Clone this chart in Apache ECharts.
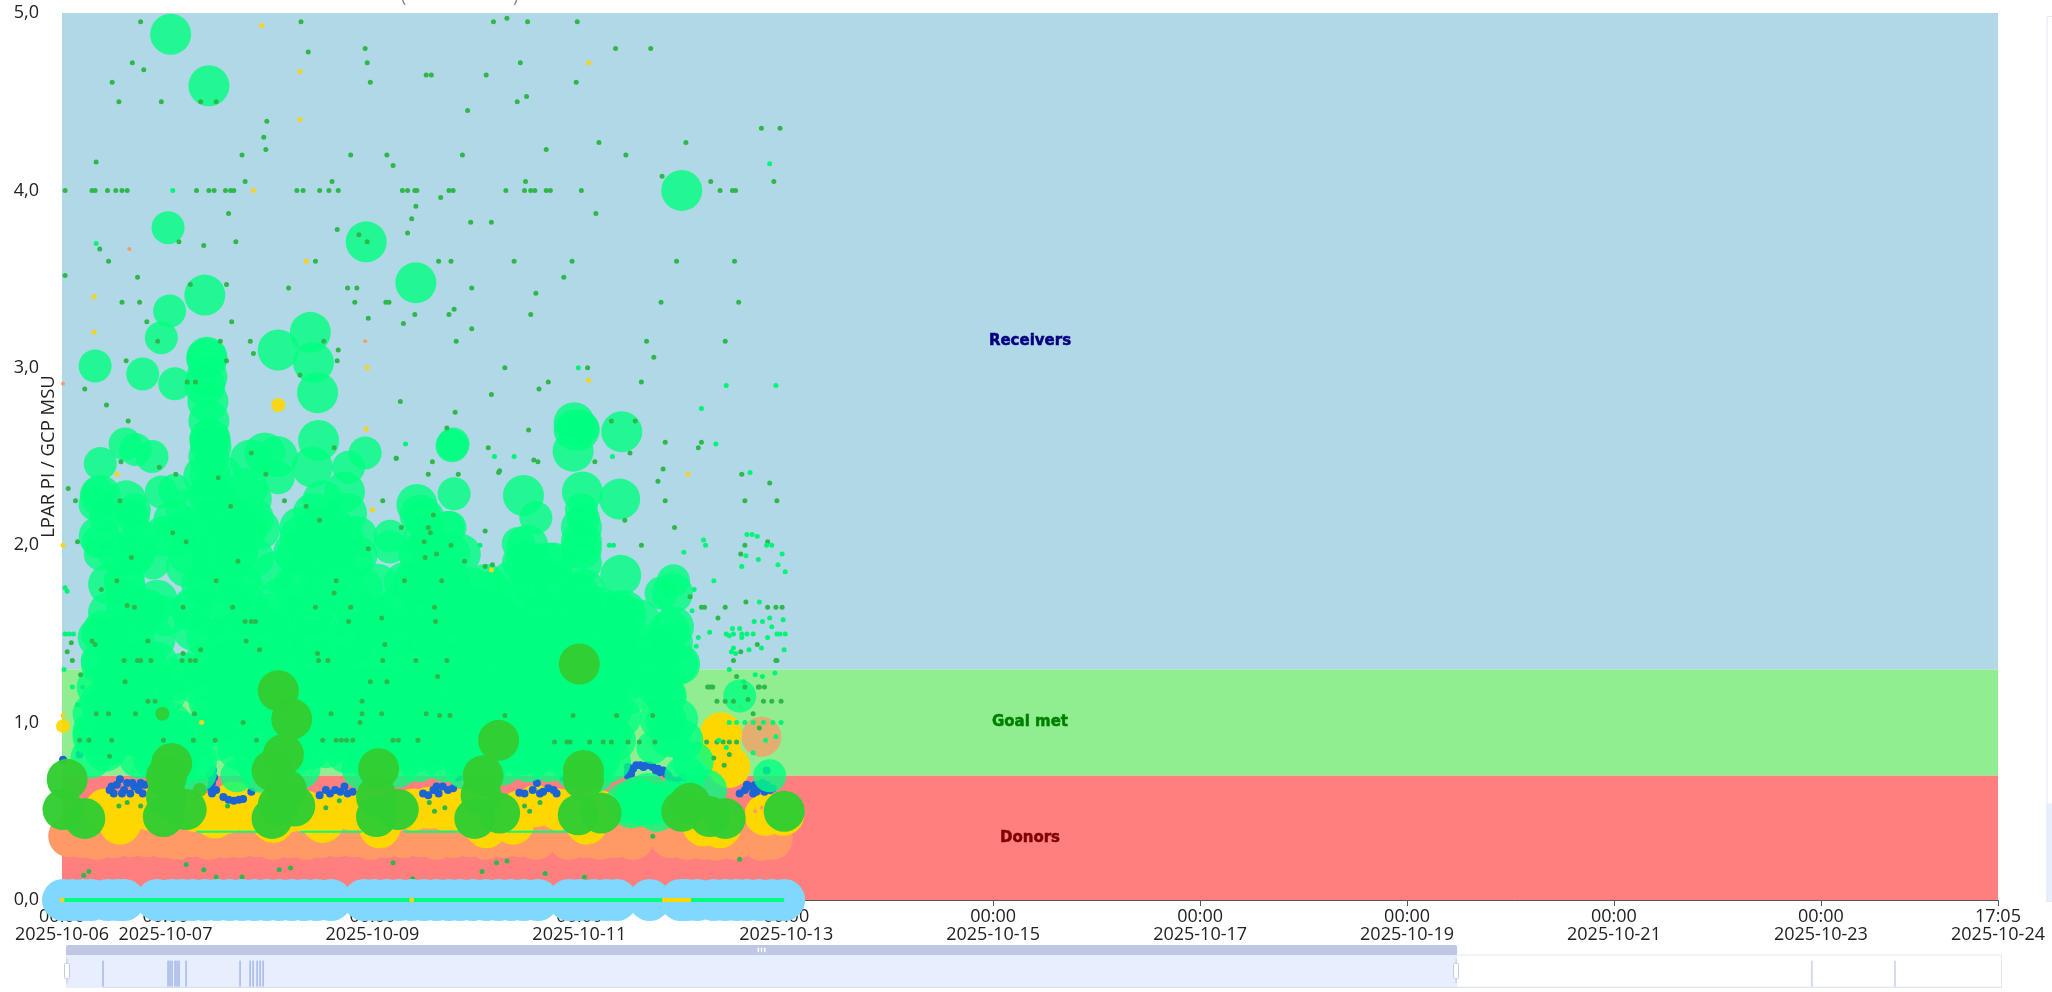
<!DOCTYPE html>
<html><head><meta charset="utf-8">
<style>html,body{margin:0;padding:0;background:#fff;overflow:hidden}#c{width:2052px;height:992px}</style>
<script src="https://cdn.jsdelivr.net/npm/echarts@6/dist/echarts.min.js"></script>
</head><body><div id="c"></div>
<script>
// All points are [days since 2025-10-06 00:00, LPAR PI / GCP MSU]
const startTime = '2025-10-06T00:00:00';
const viewEnd = '2025-10-24T17:05:00';
const fullEnd = '2025-11-01T01:00:00';
const xTicks = ['2025-10-06T00:00:00','2025-10-07T00:00:00','2025-10-09T00:00:00','2025-10-11T00:00:00','2025-10-13T00:00:00','2025-10-15T00:00:00','2025-10-17T00:00:00','2025-10-19T00:00:00','2025-10-21T00:00:00','2025-10-23T00:00:00','2025-10-24T17:05:00'];
const bands = [
  {name:'Receivers', from:1.3, to:5, color:'#b0d8e6', text:'#000080'},
  {name:'Goal met', from:0.7, to:1.3, color:'#90ee90', text:'#008000'},
  {name:'Donors', from:0, to:0.7, color:'#ff7f7f', text:'#800000'}
];
// overview strip readings: [run of empty samples, value]
const overviewRuns = [[37,20],[64,20],[1,20],[1,20],[2,20],[1,20],[1,20],[6,20],[53,20],[9,20],[2,20],[3,20],[2,20],[2,20],[1547,20],[82,20],[106,0]];

const springLarge = [[1.05,4.88],[1.42,4.59],[2.94,3.71],[3.42,3.48],[5.99,4.0],[1.38,3.41],[1.40,3.06],[1.40,3.05],[1.38,2.90],[1.41,2.81],[2.40,3.20],[2.43,3.03],[2.47,2.86],[2.09,3.10],[4.95,2.69],[5.41,2.64],[4.94,2.53],[1.43,2.60],[1.43,2.59],[1.44,2.555],[2.48,2.59],[2.42,2.44],[1.43,2.40],[1.37,2.39],[1.55,2.39],[1.82,2.48],[1.96,2.52],[2.08,2.50],[1.79,2.32],[1.83,2.26],[2.73,2.30],[2.52,2.25],[2.43,2.18],[3.43,2.23],[3.46,2.17],[4.46,2.28],[5.39,2.26],[5.02,2.02],[5.02,1.98],[5.40,1.83],[5.0,2.65],
[1.08,2.14],[1.43,2.14],[1.79,2.09],[1.91,2.09],[0.75,2.03],[0.69,1.94],[1.2,1.88],[1.40,2.01],[1.69,1.94],[2.24,1.96],[2.40,1.97],[2.81,1.92],[3.46,1.94],[3.65,1.84],[3.31,1.79],[0.61,1.77],[0.92,1.69],[0.61,1.69],[0.40,1.52],[0.85,1.63],[0.66,1.45],[0.82,1.35],[1.27,1.65],[1.27,1.52],[1.78,1.67],[1.72,1.79],[1.40,1.77],[2.24,1.77],[2.56,1.75],[2.81,1.67],[2.40,1.60],[1.98,1.52],[1.62,1.48],[3.2,1.63],[3.52,1.63],[3.68,1.71],[3.2,1.48],[3.52,1.48],[2.81,1.45],[2.43,1.45],[1.98,1.33],[1.59,1.33],[1.37,1.33],[1.17,1.28],[0.75,1.30],[0.50,1.24],[3.2,1.33],[2.81,1.30],[2.43,1.30],[3.62,1.33],
[4.49,1.91],[4.75,1.90],[4.76,1.79],[3.77,1.75],[4.49,1.75],[5.2,1.65],[5.37,1.63],[5.44,1.63],[5.91,1.54],[5.87,1.52],[5.97,1.33],[5.81,1.26],[5.39,1.48],[5.39,1.33],[4.94,1.52],[4.62,1.60],[4.3,1.56],[3.97,1.56],[3.78,1.67],[3.97,1.41],[4.3,1.41],[4.62,1.45],[5.1,1.37],[3.65,1.48],[3.81,1.30],[4.14,1.28],[4.46,1.26],[4.78,1.26],[5.26,1.2],[5.90,1.73],[5.90,1.45],[5.95,1.33],[5.76,1.2],[5.84,1.15],[5.77,1.41],[5.58,1.58],[5.37,1.5],
[0.42,1.1],[0.55,1.12],[0.72,1.1],[0.88,1.12],[1.0,1.16],[1.42,1.12],[1.6,1.14],[1.75,1.1],[1.9,1.15],[2.05,1.1],[2.25,1.14],[2.42,1.1],[2.6,1.12],[2.78,1.1],[2.95,1.15],[3.12,1.1],[3.3,1.13],[3.5,1.1],[3.68,1.12],[3.85,1.1],[4.05,1.13],[4.25,1.1],[4.42,1.14],[4.6,1.1],[4.8,1.12],[4.98,1.1],[5.16,1.14],[5.32,1.08],[5.47,1.16],
[0.37,1.11],[0.30,0.95],[0.45,0.87],[0.62,0.93],[0.80,0.90],[0.95,0.82],[1.15,0.80],[1.30,0.78],[1.85,0.80],[2.0,0.80],[2.2,0.80],[2.40,0.85],[2.55,0.86],[2.75,0.83],[2.95,0.80],[3.1,0.80],[3.3,0.85],[3.45,0.84],[3.6,0.84],[3.78,0.84],[3.95,0.80],[4.15,0.80],[4.3,0.85],[4.45,0.82],[4.6,0.83],[4.75,0.84],[4.9,0.82],[5.05,0.80],[5.2,0.80],[5.35,0.90],[5.62,0.56],[5.5,0.52],[5.75,0.5],[5.83,1.15],[6.0,0.90],[6.23,0.62],[5.84,1.01],[6.02,0.7],
[0.55,1.0],[1.05,1.0],[1.5,1.0],[1.95,0.98],[2.35,1.0],[2.7,0.98],[3.05,1.0],[3.4,0.98],[3.75,1.0],[4.15,0.98],[4.5,1.0],[4.85,0.98],[5.2,0.98],[0.75,0.8],[1.0,0.92],[1.15,0.95],[1.7,0.85],[1.62,1.22],[2.0,1.22],[2.6,1.25],[3.0,1.2],[3.4,1.22],[4.0,1.18],[4.6,1.2],[5.0,1.25],[5.2,1.35],[4.8,1.4],[4.45,1.42],[4.15,1.45],[2.15,1.42],[1.8,1.35],[2.1,1.7],[2.05,1.85],[3.0,1.55],[3.05,1.78],[3.4,1.78],[3.85,1.95],[4.1,1.78],[4.2,1.62],[5.05,1.75],[4.95,1.62]];
const springFill = [
[0.55,1.95],[0.72,1.97],[1.22,1.95],[1.45,1.92],[1.7,1.96],[1.85,1.93],[2.27,1.95],[2.45,1.93],[2.65,1.96],[2.85,1.94],[3.45,1.95],[3.65,1.93],
[0.45,1.78],[0.6,1.8],[1.35,1.78],[1.55,1.8],[1.75,1.76],[2.3,1.8],[2.5,1.78],[2.7,1.8],[2.9,1.76],[3.4,1.8],[3.55,1.78],[3.75,1.8],[3.95,1.76],[4.15,1.74],[4.35,1.8],[4.55,1.78],[4.75,1.76],[5.0,1.72],
[0.45,1.62],[0.62,1.6],[0.8,1.64],[1.0,1.6],[1.25,1.63],[1.45,1.6],[1.65,1.64],[1.85,1.6],[2.05,1.62],[2.25,1.6],[2.45,1.64],[2.65,1.6],[2.85,1.62],[3.05,1.6],[3.25,1.64],[3.45,1.6],[3.65,1.62],[3.85,1.6],[4.05,1.64],[4.25,1.6],[4.45,1.62],[4.65,1.6],[4.85,1.64],[5.05,1.6],[5.25,1.62],[5.45,1.6],
[0.35,1.48],[0.5,1.46],[0.7,1.5],[0.9,1.47],[1.4,1.48],[1.6,1.5],[1.8,1.46],[2.0,1.48],[2.2,1.5],[2.4,1.46],[2.6,1.48],[2.8,1.5],[3.0,1.46],[3.2,1.48],[3.4,1.5],[3.6,1.46],[3.8,1.48],[4.0,1.5],[4.2,1.46],[4.4,1.48],[4.6,1.5],[4.8,1.46],[5.0,1.48],[5.2,1.5],[5.4,1.46],[5.6,1.44],
[0.38,1.33],[0.55,1.35],[0.74,1.32],[0.92,1.34],[1.45,1.33],[1.65,1.35],[1.85,1.32],[2.05,1.34],[2.25,1.33],[2.45,1.35],[2.65,1.32],[2.85,1.34],[3.05,1.33],[3.25,1.35],[3.45,1.32],[3.65,1.34],[3.85,1.33],[4.05,1.35],[4.25,1.32],[4.45,1.34],[4.65,1.33],[4.85,1.35],[5.05,1.32],[5.25,1.34],[5.45,1.33],[5.65,1.3],
[0.34,1.2],[0.5,1.18],[0.7,1.21],[0.9,1.19],[1.1,1.24],[1.3,1.22],[1.5,1.2],[1.7,1.18],[1.9,1.21],[2.1,1.19],[2.3,1.2],[2.5,1.18],[2.7,1.21],[2.9,1.19],[3.1,1.2],[3.3,1.18],[3.5,1.21],[3.7,1.19],[3.9,1.2],[4.1,1.18],[4.3,1.21],[4.5,1.19],[4.7,1.2],[4.9,1.18],[5.1,1.21],[5.3,1.19],[5.5,1.25],
[0.3,1.05],[0.48,1.04],[0.68,1.06],[0.86,1.03],[1.45,1.05],[1.65,1.03],[1.85,1.06],[2.05,1.04],[2.25,1.05],[2.45,1.03],[2.65,1.06],[2.85,1.04],[3.05,1.05],[3.25,1.03],[3.45,1.06],[3.65,1.04],[3.85,1.05],[4.05,1.03],[4.25,1.06],[4.45,1.04],[4.65,1.05],[4.85,1.03],[5.05,1.06],[5.25,1.04],[5.4,1.03],
[0.3,0.92],[0.5,0.9],[0.7,0.93],[0.9,0.91],[1.1,0.9],[1.3,0.93],[1.5,0.9],[1.7,0.92],[1.9,0.91],[2.1,0.9],[2.3,0.93],[2.5,0.91],[2.7,0.9],[2.9,0.92],[3.1,0.93],[3.3,0.9],[3.5,0.92],[3.7,0.91],[3.9,0.9],[4.1,0.93],[4.3,0.91],[4.5,0.9],[4.7,0.92],[4.9,0.91],[5.1,0.9],[5.3,0.93],
[0.28,0.8],[0.42,0.84],[0.88,0.8],[1.1,0.74],[1.3,0.72],[1.92,0.72],[2.1,0.74],[2.3,0.74],[2.9,0.74],[3.05,0.74],[3.25,0.75],[3.45,0.78],[3.7,0.78],[3.9,0.74],[4.1,0.74],[4.25,0.76],[4.5,0.78],[4.7,0.78],[4.95,0.74],[5.15,0.72],[5.3,0.78],
[5.66,0.6],[5.55,0.58],[5.72,0.54],[5.86,0.56],[6.1,0.78],[5.95,1.02],[5.78,1.02],[5.88,0.92],[5.45,0.55],[5.6,0.53],
[0.62,2.14],[0.98,2.05],[1.2,2.2],[1.55,2.2],[1.68,2.08],[1.55,1.98],[2.3,2.1],[2.62,2.1],[2.72,2.05],[2.85,2.05],[3.5,2.05],[3.6,1.75],[3.7,1.6],[1.42,2.28],[1.42,2.5],[5.02,2.1],
[0.37,2.28],[0.36,2.05],[0.62,2.25],[1.1,2.05],[1.25,2.1],[1.45,2.3],[1.6,2.15],[1.85,2.15],[2.3,2.05],[2.45,2.1],[2.6,2.0],[2.75,2.18],[3.5,2.15],[3.55,2.0],[3.75,1.95],[4.55,1.9],[4.45,1.9],[4.7,1.9],[4.5,2.0],[5.02,1.9],[5.03,2.3],[1.42,2.7],[1.4,2.95],[4.95,2.65]];
const springMedium = [[1.025,3.79],[1.04,3.32],[0.96,3.17],[0.32,3.01],[0.78,2.965],[1.09,2.91],[0.61,2.57],[0.71,2.54],[0.87,2.50],[0.37,2.46],[0.35,2.29],[0.32,2.23],[0.70,2.20],[0.42,2.16],[0.35,2.02],[0.37,1.95],[0.96,2.30],[1.09,2.31],[2.93,2.52],[2.77,2.44],[3.78,2.57],[3.73,2.10],[3.17,2.05],[5.03,2.66],[3.77,2.56],[3.79,2.29],[4.58,2.155],[3.75,2.10],[4.41,2.01],[5.02,2.20],[5.04,2.15],[3.75,1.82],[5.0,1.75],[5.79,1.73],[5.91,1.80],[5.78,1.43],[0.88,1.90],[3.17,1.99],[0.34,1.50],[0.34,1.35],[0.69,2.16],[2.09,2.38],[6.84,0.70],[5.71,0.86],[1.69,0.70],[6.55,1.15],[6.0,0.58]];
const goldBubbles = [[0.42,0.51],[0.56,0.43],[0.7,0.51],[0.85,0.51],[1.05,0.51],[1.3,0.5],[1.48,0.465],[1.59,0.49],[1.66,0.55],[1.8,0.5],[1.95,0.5],[2.04,0.44],[2.2,0.5],[2.35,0.5],[2.52,0.44],[2.65,0.51],[2.8,0.51],[3.07,0.41],[3.2,0.5],[3.4,0.51],[3.55,0.52],[3.7,0.51],[3.82,0.51],[3.99,0.5],[4.1,0.41],[4.36,0.43],[4.42,0.5],[4.58,0.53],[4.8,0.51],[5.07,0.43],[5.2,0.5],[6.2,0.42],[6.36,0.41],[6.8,0.48],[6.97,0.48],[6.37,0.94],[6.36,0.845],[6.45,0.75]];
const goldSmall = [[2.09,2.79],[0.01,0.98]];
const orangeBubbles = [[0.07,0.36],[0.2,0.355],[0.34,0.345],[0.5,0.355],[0.66,0.36],[0.82,0.36],[0.98,0.355],[1.12,0.345],[1.26,0.36],[1.42,0.345],[1.58,0.355],[1.72,0.355],[1.88,0.36],[2.04,0.345],[2.2,0.355],[2.36,0.345],[2.5,0.355],[2.66,0.36],[2.82,0.36],[2.98,0.345],[3.14,0.355],[3.3,0.355],[3.46,0.36],[3.62,0.345],[3.78,0.355],[3.94,0.36],[4.1,0.345],[4.26,0.355],[4.42,0.36],[4.58,0.345],[4.9,0.345],[5.06,0.355],[5.2,0.345],[5.35,0.355],[5.52,0.345],[5.88,0.355],[6.04,0.345],[6.2,0.345],[6.32,0.34],[6.5,0.345],[6.76,0.34],[6.86,0.345]];
const orangeFaded = [[6.76,0.92]];
const skyBubbles = [[0.01,0],[0.1,0],[0.2,0],[0.28,0],[0.44,0],[0.54,0],[0.6,0],[0.92,0],[1.06,0],[1.16,0],[1.26,0],[1.38,0],[1.5,0],[1.62,0],[1.74,0],[1.86,0],[1.98,0],[2.1,0],[2.22,0],[2.34,0],[2.46,0],[2.6,0],[2.92,0],[3.02,0],[3.14,0],[3.26,0],[3.38,0],[3.5,0],[3.62,0],[3.74,0],[3.85,0],[3.97,0],[4.1,0],[4.22,0],[4.34,0],[4.46,0],[4.6,0],[4.9,0],[5.0,0],[5.14,0],[5.26,0],[5.36,0],[5.68,0],[5.98,0],[6.04,0],[6.14,0],[6.3,0],[6.41,0],[6.52,0],[6.62,0],[6.74,0],[6.86,0],[6.98,0]];
const darkBubbles = [[2.09,1.18],[2.22,1.02],[2.14,0.82],[2.03,0.73],[2.17,0.62],[2.03,0.46],[2.25,0.53],[2.09,0.535],[1.06,0.77],[1.01,0.695],[1.01,0.58],[0.98,0.47],[1.2,0.51],[0.05,0.68],[0.01,0.51],[0.22,0.46],[3.06,0.74],[3.04,0.58],[3.04,0.47],[3.25,0.51],[4.22,0.90],[4.07,0.70],[4.05,0.59],[3.99,0.46],[4.23,0.49],[5.04,0.73],[5.04,0.68],[4.99,0.48],[5.21,0.49],[5.99,0.50],[6.07,0.545],[6.26,0.47],[6.41,0.46],[6.98,0.50],[5.0,1.33]];
const darkSmall = [[1.33,0.62],[0.97,1.05]];
const blueDots = [[0.46,0.62],[0.5,0.6],[0.53,0.65],[0.56,0.68],[0.6,0.62],[0.63,0.66],[0.66,0.6],[0.7,0.64],[0.74,0.62],[0.78,0.6],[0.8,0.65],[0.48,0.64],[0.58,0.6],[0.68,0.66],[0.76,0.66],[0.01,0.79],[0.17,0.82],[1.45,0.66],[1.43,0.70],[1.46,0.73],[1.45,0.60],[1.49,0.62],[1.44,0.63],[1.47,0.69],[1.56,0.58],[1.61,0.565],[1.66,0.56],[1.71,0.565],[1.75,0.57],[1.83,0.61],[2.49,0.59],[2.59,0.60],[2.64,0.62],[2.69,0.61],[2.73,0.64],[2.76,0.6],[2.81,0.61],[2.55,0.62],[3.54,0.59],[3.49,0.60],[3.59,0.62],[3.64,0.6],[3.68,0.64],[3.73,0.62],[3.78,0.63],[3.83,0.69],[3.62,0.64],[4.42,0.605],[4.47,0.6],[4.55,0.62],[4.59,0.66],[4.62,0.6],[4.65,0.61],[4.7,0.63],[4.75,0.62],[4.78,0.60],[4.84,0.69],[5.47,0.75],[5.47,0.72],[5.47,0.70],[5.5,0.74],[5.52,0.74],[5.5,0.71],[5.55,0.76],[5.59,0.76],[5.62,0.75],[5.65,0.76],[5.68,0.76],[5.71,0.75],[5.74,0.73],[5.76,0.74],[5.78,0.72],[5.81,0.73],[5.84,0.71],[5.86,0.70],[5.88,0.68],[5.94,0.67],[6.0,0.69],[6.55,0.60],[6.6,0.62],[6.62,0.65],[6.65,0.64],[6.68,0.6],[6.71,0.61],[6.7,0.65],[6.74,0.63],[6.77,0.66],[6.79,0.61],[6.81,0.65],[6.84,0.62],[6.87,0.63],[6.81,0.73]];
const limeDots = [[0.76,4.95],[2.31,4.95],[4.17,4.95],[4.30,4.97],[4.50,4.95],[4.98,4.95],[2.38,4.78],[2.93,4.80],[5.35,4.80],[5.69,4.80],[0.68,4.72],[2.95,4.72],[4.43,4.72],[0.79,4.68],[3.52,4.65],[3.57,4.65],[4.10,4.65],[0.485,4.61],[2.98,4.61],[4.97,4.61],[4.49,4.53],[4.40,4.50],[0.55,4.50],[0.96,4.50],[1.49,4.50],[1.34,4.50],[3.92,4.45],[1.98,4.39],[6.76,4.35],[6.94,4.35],[1.95,4.30],[5.19,4.27],[6.03,4.27],[1.97,4.23],[4.68,4.23],[1.74,4.20],[2.79,4.20],[3.14,4.20],[3.87,4.20],[5.45,4.20],[0.33,4.16],[3.20,4.14],[5.80,4.08],[6.88,4.05],[1.77,4.05],[2.61,4.05],[4.48,4.05],[6.27,4.05],
[0.03,4],[0.29,4],[0.32,4],[0.44,4],[0.52,4],[0.58,4],[0.63,4],[1.30,4],[1.42,4],[1.47,4],[1.58,4],[1.63,4],[1.66,4],[2.27,4],[2.33,4],[2.49,4],[2.58,4],[2.67,4],[3.29,4],[3.34,4],[3.41,4],[3.43,4],[3.74,4],[3.78,4],[4.29,4],[4.47,4],[4.53,4],[4.57,4],[4.68,4],[4.72,4],[5.02,4],[6.36,4],[6.48,4],[6.51,4],
[3.66,3.96],[3.42,3.91],[1.61,3.87],[5.16,3.87],[3.38,3.84],[3.95,3.82],[4.15,3.82],[2.66,3.78],[3.34,3.76],[2.87,3.75],[2.95,3.71],[1.13,3.71],[1.68,3.71],[1.37,3.69],[0.365,3.67],[0.45,3.60],[2.45,3.60],[3.64,3.60],[3.76,3.60],[4.37,3.60],[4.93,3.60],[5.94,3.60],[6.50,3.60],[0.03,3.52],[0.73,3.51],[4.85,3.51],[1.59,3.47],[1.24,3.47],[2.19,3.45],[2.76,3.45],[2.85,3.45],[3.96,3.45],[4.58,3.42],[0.58,3.37],[0.75,3.37],[2.83,3.37],[3.13,3.37],[3.16,3.37],[5.79,3.37],[6.54,3.37],[3.79,3.33],[3.41,3.30],[3.74,3.30],[4.53,3.30],[2.96,3.28],[0.82,3.26],[1.64,3.26],[3.30,3.25],[3.96,3.22],[0.925,3.15],[1.53,3.15],[1.82,3.15],[2.53,3.15],[3.81,3.15],[5.65,3.15],[6.41,3.15],[2.67,3.10],[1.85,3.08],[5.72,3.06],[0.62,3.04],[1.59,3.04],[2.66,3.04],[4.28,3.0],[5.08,3.0],[2.30,2.96],[1.21,2.92],[1.29,2.92],[4.70,2.92],[5.60,2.92],[0.22,2.88],[4.61,2.88],[4.15,2.85],[3.27,2.81],[0.43,2.79],[3.80,2.75],[0.64,2.70],[3.72,2.66],[4.51,2.65],[5.31,2.70],[5.54,2.70],[5.83,2.58],[6.18,2.58],[6.15,2.55],[4.12,2.55],[4.56,2.48],[4.60,2.47],[3.23,2.49],[3.58,2.47],[5.15,2.47],[5.49,2.52],[4.22,2.41],[3.54,2.40],[3.83,2.40],[5.76,2.36],[6.84,2.35],[6.57,2.40],
[5.81,2.43],[6.60,2.25],[6.91,2.25],[5.83,2.25],[5.44,2.14],[5.92,2.10],[5.60,2.0],[6.60,2.0],[6.82,2.02],[6.56,1.95],[6.07,1.71],[6.61,1.68],[6.18,1.65],[6.21,1.65],[6.41,1.65],[6.82,1.65],[6.90,1.65],[6.96,1.65],[6.34,1.59],[6.72,1.44],[6.56,1.40],[6.49,1.35],[6.90,1.35],[6.91,1.35],[6.52,1.26],[6.60,1.20],[6.73,1.20],[6.79,1.20],[6.24,1.20],[6.28,1.20],[4.23,2.42],[4.09,2.08],[3.76,2.0],[3.89,1.91],[4.09,1.88],[4.16,1.89],[3.67,1.80],
[0.10,1.35],[0.60,1.35],[0.73,1.35],[0.76,1.35],[0.86,1.35],[1.16,1.35],[1.24,1.35],[1.29,1.35],[2.48,1.35],[2.57,1.35],[3.10,1.35],[3.42,1.35],[3.72,1.35],[0.63,1.66],[0.70,1.65],[1.17,1.65],[1.65,1.65],[2.45,1.65],[2.79,1.65],[3.60,1.65],[0.53,1.80],[1.49,1.80],[2.65,1.80],[3.31,1.80],[1.77,1.57],[1.83,1.57],[1.87,1.57],[2.77,1.57],[3.61,1.57],[3.09,1.59],[0.57,2.47],[0.94,2.44],[1.10,2.40],[1.51,2.38],[1.83,2.52],[1.97,2.40],[2.63,2.55],[3.23,2.49],[0.06,2.32],[0.13,2.25],[0.56,2.25],[2.15,2.25],[3.10,2.25],[2.36,2.22],[1.63,2.22],[2.49,2.14],[3.59,2.17],[3.28,2.10],[3.54,2.10],[3.56,2.07],[1.07,2.07],[0.15,2.02],[1.20,2.02],[3.50,2.02],[2.96,1.98],[0.67,1.93],[1.70,1.91],[3.51,1.93],[3.62,1.95],[0.38,1.75],[2.63,1.73],[0.29,1.46],[0.32,1.44],[0.09,1.45],[0.05,1.40],[0.83,1.46],[1.78,1.46],[1.91,1.41],[3.12,1.44],[2.47,1.39],[1.34,1.41],[1.17,1.39],[0.61,1.23],[0.18,1.27],[2.98,1.23],[3.14,1.23],[3.63,1.26],
[0.33,1.05],[0.45,1.05],[0.71,1.05],[0.17,0.90],[0.26,0.90],[0.48,0.90],[0.98,0.90],[1.27,0.90],[1.48,0.90],[1.88,0.90],[2.52,0.90],[2.65,0.90],[2.70,0.90],[2.75,0.90],[2.81,0.90],[3.20,0.90],[3.25,0.90],[3.44,0.90],[0.83,1.12],[0.90,1.12],[2.90,1.12],[1.28,1.05],[2.60,1.05],[2.9,1.05],[3.09,1.05],[3.52,1.05],[1.75,1.0],[2.88,1.0],[0.46,0.81],[3.65,1.04],[3.75,1.04],[4.28,1.04],[4.94,1.04],[5.36,1.04],[5.71,1.04],[4.76,0.89],[4.88,0.89],[4.91,0.89],[5.10,0.89],[5.23,0.89],[5.31,0.89],[5.47,0.89],[5.58,0.89],[5.73,0.89],[6.23,0.89],[6.33,0.89],[6.39,0.89],[6.45,0.89],[6.52,0.89],[6.26,1.2],[6.29,1.2],[6.74,1.2],[6.49,1.12],[6.33,1.12],[6.41,1.12],[6.78,1.12],[6.86,1.12],[6.95,1.12],[6.63,1.13],[6.68,1.05],[6.74,0.97],[6.3,0.8],[6.4,0.76],[6.45,0.82],[3.55,0.55],[3.6,0.5],[3.7,0.52],[4.47,0.53],[4.52,0.5],[4.62,0.55],[0.55,0.53],[0.63,0.55],[0.76,0.53],[2.55,0.52],[2.68,0.56],[1.6,0.53],
[0.21,0.14],[0.26,0.16],[1.20,0.20],[1.37,0.17],[1.49,0.13],[1.74,0.13],[2.10,0.17],[2.21,0.18],[3.20,0.21],[3.39,0.12],[4.06,0.16],[4.20,0.21],[4.30,0.22],[4.67,0.15],[5.05,0.13],[3.62,0.09],[6.55,0.23],[5.71,0.36]];
const springDots = [[1.07,4.0],[0.33,3.70],[6.84,4.15],[4.99,3.0],[6.42,2.90],[6.90,2.90],[6.18,2.77],[6.32,2.57],[3.32,2.57],[4.37,2.50],[4.18,2.50],[5.32,2.50],[6.65,2.41],[6.20,2.03],[6.22,2.0],[6.01,1.96],[5.29,2.0],[5.33,2.0],[4.04,2.0],[6.62,2.06],[6.67,2.06],[6.72,2.05],[6.81,2.0],[6.86,2.0],[6.61,1.94],[6.73,1.92],[6.96,1.95],[6.57,1.88],[6.92,1.89],[6.99,1.85],[6.30,1.80],[6.11,1.75],[6.74,1.68],[6.09,1.63],[6.69,1.57],[6.77,1.57],[6.84,1.59],[6.97,1.58],[6.86,1.54],[6.48,1.53],[6.55,1.53],[6.42,1.50],[6.49,1.50],[6.57,1.50],[6.62,1.50],[6.68,1.50],[6.91,1.50],[6.94,1.50],[6.99,1.50],[6.26,1.51],[6.15,1.48],[6.45,1.49],[6.82,1.48],[6.57,1.48],[6.98,1.41],[6.49,1.42],[6.47,1.40],[6.51,1.39],[6.64,1.41],[6.76,1.42],[6.13,1.43],[6.45,1.30],[6.89,1.28],[6.70,1.27],[6.77,1.26],[6.59,1.23],[0.03,1.50],[0.07,1.50],[0.11,1.50],[0.03,1.76],[0.05,1.74],[0.02,1.30],[6.45,1.0],[6.52,1.0],[6.60,1.0],[6.68,1.0],[6.78,1.0],[6.87,1.0],[6.95,1.0],[6.68,0.83],[6.8,0.9],[6.9,0.92],[6.35,0.9],[6.42,0.86],[0.15,1.1],[0.1,1.2],[0.2,1.2]];
const yellowDots = [[1.93,4.93],[2.30,4.67],[5.09,4.72],[2.30,4.40],[1.85,4.0],[2.36,3.60],[0.31,3.40],[0.31,3.20],[2.95,3.0],[5.09,2.93],[2.94,2.655],[0.53,2.40],[6.05,2.40],[0.01,2.0],[0.01,1.04],[1.35,1.0],[3.0,2.2],[4.15,1.86]];
const yellowZero = [[3.38,0],[0.0,0]];
const orangeDots = [[0.65,3.67],[2.93,3.15],[0.01,2.91],[6.55,1.09],[0.95,0.92],[0.17,0.75],[0.9,0.8],[1.95,1.0],[3.3,0.75],[4.8,0.75],[6.5,0.55],[6.7,0.5],[6.76,0.52]];
const zeroStrip = [[0.02,0],[6.98,0]];
const zeroGold = [[5.80,0],[6.08,0]];
const lowStrip = [[1.3,0.385],[1.9,0.385],[1.9,null],[2.3,0.385],[2.9,0.385],[2.9,null],[3.3,0.385],[3.9,0.385],[3.9,null],[4.3,0.385],[4.9,0.385]];

const t0 = new Date(startTime).getTime();
const DAY = 86400000;
const toTime = p => [t0 + p[0]*DAY, p[1]];
const tickMs = xTicks.map(s => new Date(s).getTime());
const fullMs = new Date(fullEnd).getTime();
const overview = [];
overviewRuns.forEach(r => {
  for (let k = 0; k < r[0]; k++) overview.push(null);
  overview.push(r[1]);
});
const overviewData = overview.map((v, i) => [t0 + (fullMs - t0) * i / (overview.length - 1), v]);

function dots(name, pts, color, size, z, opacity) {
  return {name, type:'scatter', data:pts.map(toTime), symbolSize:size, clip:false, silent:true, z,
    itemStyle:{color, opacity: opacity === undefined ? 1 : opacity}};
}
function strip(name, pts, color, width, z) {
  return {name, type:'line', data:pts.map(toTime), showSymbol:false, symbol:'none', clip:false, silent:true, z,
    lineStyle:{color, width, cap:'butt'}};
}
const fontMain = '"Open Sans", sans-serif';
const chart = echarts.init(document.getElementById('c'), null, {renderer:'canvas'});
chart.setOption({
  animation:false,
  backgroundColor:'#fff',
  title:[
    {text:'(', left:396, top:-17, textStyle:{color:'#888', fontSize:18, fontWeight:'normal', fontFamily:fontMain}},
    {text:')', left:508, top:-17, textStyle:{color:'#888', fontSize:18, fontWeight:'normal', fontFamily:fontMain}}
  ],
  grid:{left:62, right:54, top:13, bottom:92, outerBoundsMode:'none'},
  xAxis:{type:'value', min:t0, max:fullMs,
    axisLine:{show:true, onZero:false, lineStyle:{color:'#555'}},
    axisTick:{show:true, length:6, customValues:tickMs, lineStyle:{color:'#555'}},
    splitLine:{show:false}, minorTick:{show:false},
    axisLabel:{customValues:tickMs, margin:8, color:'#222', fontSize:18, lineHeight:18, fontFamily:fontMain, hideOverlap:false,
      formatter:v => echarts.time.format(v, '{HH}:{mm}\n{yyyy}-{MM}-{dd}', false)}},
  yAxis:{type:'value', min:0, max:45, interval:1,
    name:'LPAR PI / GCP MSU', nameLocation:'middle', nameGap:4, nameMoveOverlap:false,
    nameTextStyle:{color:'#222', fontSize:18.5, fontFamily:fontMain},
    axisLine:{show:false}, axisTick:{show:false}, splitLine:{show:false},
    axisLabel:{margin:23, color:'#222', fontSize:18, fontFamily:fontMain, formatter:v => v.toFixed(1).replace('.', ',')}},
  dataZoom:[
    {type:'slider', xAxisIndex:0, filterMode:'none', startValue:t0, endValue:new Date(viewEnd).getTime(),
      left:62, width:1936, top:945, height:33, showDetail:false, showDataShadow:true, brushSelect:true,
      handleSize:'75%', moveHandleSize:10,
      moveHandleStyle:{color:'#bfc7e4', opacity:1},
      emphasis:{moveHandleStyle:{color:'#bfc7e4', opacity:1}},
      borderColor:'#e4e8f6',
      fillerColor:'rgba(135,175,274,0.2)',
      dataBackground:{lineStyle:{color:'#c6cfec', width:1, opacity:1}, areaStyle:{opacity:0}},
      selectedDataBackground:{lineStyle:{color:'#aeb8e4', width:1, opacity:1}, areaStyle:{opacity:0}}},
    {type:'slider', yAxisIndex:0, orient:'vertical', filterMode:'none', startValue:0, endValue:5,
      left:2046, width:30, top:16, height:886, showDetail:false, showDataShadow:false, brushSelect:false,
      moveHandleSize:0, handleSize:1, borderColor:'#e4e8f6', fillerColor:'rgba(135,175,274,0.2)'}
  ],
  series:[
    {name:'Overview', type:'line', data:overviewData, showSymbol:false, symbol:'none', silent:true, z:1,
      lineStyle:{opacity:0}, connectNulls:false,
      markArea:{silent:true, z:1, data:bands.map(b => [
        {yAxis:b.from, name:b.name, itemStyle:{color:b.color, opacity:1},
          label:{show:true, position:'inside', color:b.text, fontFamily:'"DejaVu Sans", sans-serif', fontWeight:'bold', fontSize:15, textBorderColor:b.text, textBorderWidth:0.5}},
        {yAxis:b.to}
      ])}},
    dots('Orange', orangeBubbles, '#ff9966', 42, 2),
    dots('OrangeFaded', orangeFaded, '#ff9966', 40, 2, 0.75),
    dots('Gold', goldBubbles, '#ffd700', 42, 3),
    dots('GoldSmall', goldSmall, '#ffd700', 14, 3, 0.9),
    dots('Blue', blueDots, '#1c64d4', 8, 4),
    dots('OrangeDots', orangeDots, '#ff9966', 4, 5),
    dots('SpringLarge', springLarge, '#00ff7f', 41, 6, 0.8),
    dots('SpringFill', springFill, '#00ff7f', 41, 6, 0.8),
    dots('SpringMedium', springMedium, '#00ff7f', 33, 6, 0.8),
    dots('Lime', limeDots, '#2fb84a', 5, 7),
    dots('SpringDots', springDots, '#00f578', 5, 7),
    dots('Yellow', yellowDots, '#f5d320', 5, 7),
    strip('LowStrip', lowStrip, '#00ff7f', 2, 7),
    dots('Dark', darkBubbles, '#32cd32', 41, 8, 0.97),
    dots('DarkSmall', darkSmall, '#32cd32', 14, 8, 0.9),
    dots('Sky', skyBubbles, '#80d8ff', 42, 9),
    strip('ZeroStrip', zeroStrip, '#00ff7f', 4, 10),
    strip('ZeroGold', zeroGold, '#ffd700', 4, 11),
    dots('YellowZero', yellowZero, '#f5d320', 5, 11)
  ]
});
</script></body></html>
